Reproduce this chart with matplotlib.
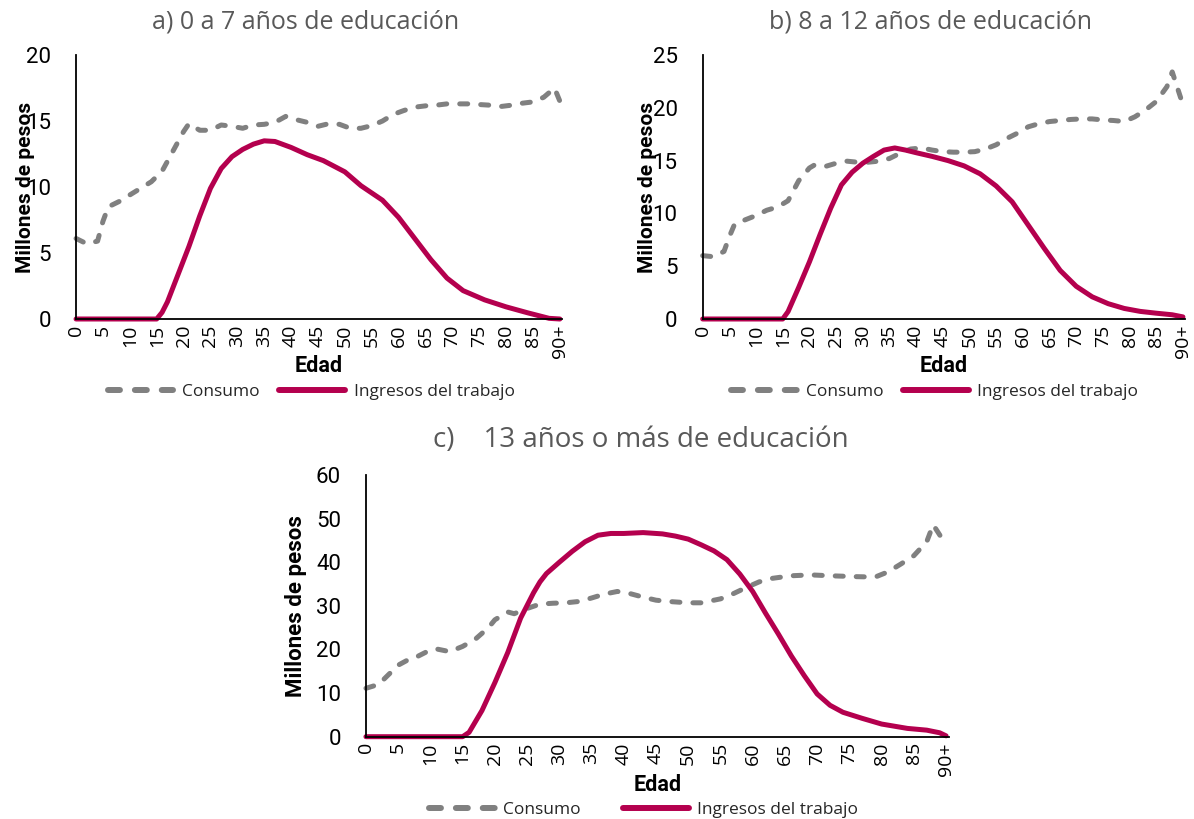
import matplotlib
matplotlib.use("Agg")
import matplotlib.pyplot as plt
from matplotlib.lines import Line2D

# Panel a) 0 a 7 anos de educacion
edad_a_consumo = [0, 2, 4, 5, 6, 8, 10, 12, 14, 16, 18, 20, 21, 23, 25, 27, 29, 31, 33, 35,
                  37, 39, 41, 43, 45, 47, 49, 51, 53, 55, 57, 59, 61, 63, 65, 67, 69, 71, 73,
                  75, 77, 79, 81, 83, 85, 87, 89, 90]
consumo_a = [6.1, 5.7, 5.9, 7.4, 8.5, 8.9, 9.4, 9.9, 10.4, 11.2, 12.7, 14.2, 14.8, 14.3, 14.3,
             14.7, 14.6, 14.45, 14.7, 14.75, 14.9, 15.35, 15.1, 14.9, 14.6, 14.8, 14.75, 14.45,
             14.45, 14.65, 15.0, 15.5, 15.8, 16.05, 16.15, 16.2, 16.3, 16.3, 16.3, 16.25, 16.2,
             16.1, 16.2, 16.35, 16.45, 16.8, 17.5, 16.5]
edad_a_ingresos = [0, 15, 16, 17, 19, 21, 23, 25, 27, 29, 31, 33, 35, 37, 40, 43, 46, 50, 53,
                   57, 60, 63, 66, 69, 72, 76, 80, 84, 88, 90]
ingresos_a = [0, 0, 0.5, 1.3, 3.4, 5.5, 7.8, 9.9, 11.4, 12.3, 12.85, 13.25, 13.5, 13.45, 13.0,
              12.45, 12.0, 11.15, 10.1, 9.0, 7.7, 6.1, 4.5, 3.1, 2.15, 1.45, 0.92, 0.47, 0.05, 0]

# Panel b) 8 a 12 anos de educacion
edad_b_consumo = [0, 2, 4, 5, 6, 8, 10, 12, 14, 16, 18, 20, 21, 23, 25, 27, 29, 31, 33, 35,
                  37, 39, 41, 43, 45, 47, 49, 51, 53, 55, 57, 59, 61, 63, 65, 67, 69, 71, 73,
                  75, 77, 79, 81, 83, 85, 87, 88, 90]
consumo_b = [6.0, 5.9, 6.4, 7.8, 9.0, 9.4, 9.8, 10.3, 10.6, 11.2, 13.1, 14.3, 14.6, 14.45,
             14.75, 14.95, 14.85, 14.85, 14.95, 15.2, 15.7, 16.1, 16.2, 16.0, 15.85, 15.8, 15.8,
             15.85, 16.1, 16.5, 17.1, 17.6, 18.2, 18.5, 18.7, 18.8, 18.9, 18.95, 18.95, 18.85,
             18.8, 18.7, 19.15, 19.8, 20.6, 22.0, 23.4, 20.3]
edad_b_ingresos = [0, 15, 16, 18, 20, 22, 24, 26, 28, 30, 32, 34, 36, 38, 40, 43, 46, 49, 52,
                   55, 58, 61, 64, 67, 70, 73, 76, 79, 82, 85, 88, 90]
ingresos_b = [0, 0, 0.7, 3.0, 5.4, 8.0, 10.5, 12.7, 13.9, 14.75, 15.4, 16.0, 16.2, 16.0, 15.75,
              15.4, 15.0, 14.5, 13.75, 12.6, 11.1, 8.9, 6.7, 4.6, 3.1, 2.1, 1.45, 1.0, 0.72,
              0.55, 0.4, 0.2]

# Panel c) 13 anos o mas de educacion
edad_c_consumo = [0, 2, 3, 5, 7, 8, 10, 11, 13, 15, 17, 19, 20, 22, 23, 25, 27, 29, 31, 33,
                  35, 37, 39, 41, 43, 45, 47, 50, 52, 55, 57, 59, 61, 63, 66, 69, 72, 76, 79,
                  81, 83, 85, 87, 88, 90]
consumo_c = [11.1, 12.0, 13.5, 16.4, 18.0, 18.4, 19.9, 20.1, 19.5, 20.7, 22.4, 25.0, 26.8,
             28.6, 28.2, 29.4, 30.4, 30.6, 30.7, 31.0, 31.8, 32.7, 33.3, 32.8, 32.0, 31.3, 31.0,
             30.7, 30.7, 31.6, 32.8, 34.2, 35.5, 36.3, 36.9, 37.1, 36.9, 36.7, 36.6, 37.8, 39.6,
             41.5, 44.7, 48.6, 44.0]
edad_c_ingresos = [0, 15, 16, 17, 18, 20, 22, 24, 26, 27, 28, 30, 32, 34, 36, 38, 40, 43, 46,
                   48, 50, 52, 54, 56, 58, 60, 62, 64, 66, 68, 70, 72, 74, 77, 80, 84, 87, 89, 90]
ingresos_c = [0, 0, 1.0, 3.5, 6.0, 12.4, 19.3, 27.2, 33.0, 35.5, 37.4, 40.0, 42.5, 44.7, 46.2,
              46.6, 46.6, 46.8, 46.5, 46.0, 45.3, 44.0, 42.6, 40.6, 37.3, 33.3, 28.3, 23.5, 18.5,
              14.0, 9.8, 7.2, 5.6, 4.2, 2.9, 1.9, 1.5, 0.9, 0.2]

ticks_edad = list(range(0, 95, 5))
etiquetas_edad = [str(t) for t in range(0, 90, 5)] + ["90+"]

titulos = ["a) 0 a 7 años de educación", "b) 8 a 12 años de educación",
           "c)    13 años o más de educación"]

GRIS = "#808080"
ROJO = "#B4004E"
ROBOTO = ["Roboto", "DejaVu Sans"]
SANS = ["Open Sans", "DejaVu Sans"]
DASH = (0, (1.6, 2.6))


def dibujar_panel(ax, ec, cons, ei, ingr, ymax, ystep, ylab_x, edad_y, ylab_size):
    ax.plot(ec, cons, color=GRIS, lw=3.6, linestyle=DASH,
            dash_capstyle="round", solid_capstyle="round", clip_on=False)
    ax.plot(ei, ingr, color=ROJO, lw=3.6, solid_capstyle="round", clip_on=False)
    ax.set_xlim(0, 90.4)
    ax.set_ylim(0, ymax)
    ax.set_yticks(range(0, ymax + 1, ystep))
    ax.set_xticks(ticks_edad)
    ax.set_xticklabels(etiquetas_edad, rotation=90, family=SANS, fontsize=14)
    for lab in ax.get_yticklabels():
        lab.set_family(ROBOTO)
        lab.set_fontsize(16)
    ax.tick_params(axis="y", length=0, pad=18)
    ax.tick_params(axis="x", length=0, pad=4)
    for s in ["top", "right"]:
        ax.spines[s].set_visible(False)
    for s in ["left", "bottom"]:
        ax.spines[s].set_linewidth(1.3)
        ax.spines[s].set_color("black")
    ax.text(ylab_x, 0.5, "Millones de pesos", transform=ax.transAxes, rotation=90,
            ha="center", va="center", fontsize=ylab_size, fontweight="bold", family=ROBOTO)
    ax.text(0.5, edad_y, "Edad", transform=ax.transAxes, ha="center", va="center",
            fontsize=15.5, fontweight="bold", family=ROBOTO)


fig = plt.figure(figsize=(11.94, 8.19), dpi=100)

ax_a = fig.add_axes([0.0637, 0.6105, 0.407, 0.3223])
ax_b = fig.add_axes([0.5885, 0.6105, 0.404, 0.3223])
ax_c = fig.add_axes([0.3065, 0.1005, 0.488, 0.3195])

dibujar_panel(ax_a, edad_a_consumo, consumo_a, edad_a_ingresos, ingresos_a, 20, 5, -0.105, -0.178, 15)
dibujar_panel(ax_b, edad_b_consumo, consumo_b, edad_b_ingresos, ingresos_b, 25, 5, -0.114, -0.178, 15)
dibujar_panel(ax_c, edad_c_consumo, consumo_c, edad_c_ingresos, ingresos_c, 60, 10, -0.12, -0.185, 16)

fig.text(0.2555, 0.973, titulos[0], ha="center", va="center", fontsize=18,
         color="#595959", family=SANS)
fig.text(0.7797, 0.973, titulos[1], ha="center", va="center", fontsize=18,
         color="#595959", family=SANS)
fig.text(0.537, 0.4628, titulos[2], ha="center", va="center", fontsize=20,
         color="#595959", family=SANS)

handles = [Line2D([], [], color=GRIS, lw=4.3, linestyle=(0, (2.0, 2.5)), dash_capstyle="round"),
           Line2D([], [], color=ROJO, lw=4.3, solid_capstyle="round")]
nombres = ["Consumo", "Ingresos del trabajo"]

for cx, cy, cs in [(0.2605, 0.5214, 1.1), (0.783, 0.5214, 1.1), (0.539, 0.011, 2.4)]:
    fig.legend(handles, nombres, loc="center", bbox_to_anchor=(cx, cy), ncol=2,
               frameon=False, handlelength=3.8, handletextpad=0.5, columnspacing=cs,
               prop={"family": SANS, "size": 12.5}, labelcolor="#262626")

fig.savefig("out.png", dpi=100)
